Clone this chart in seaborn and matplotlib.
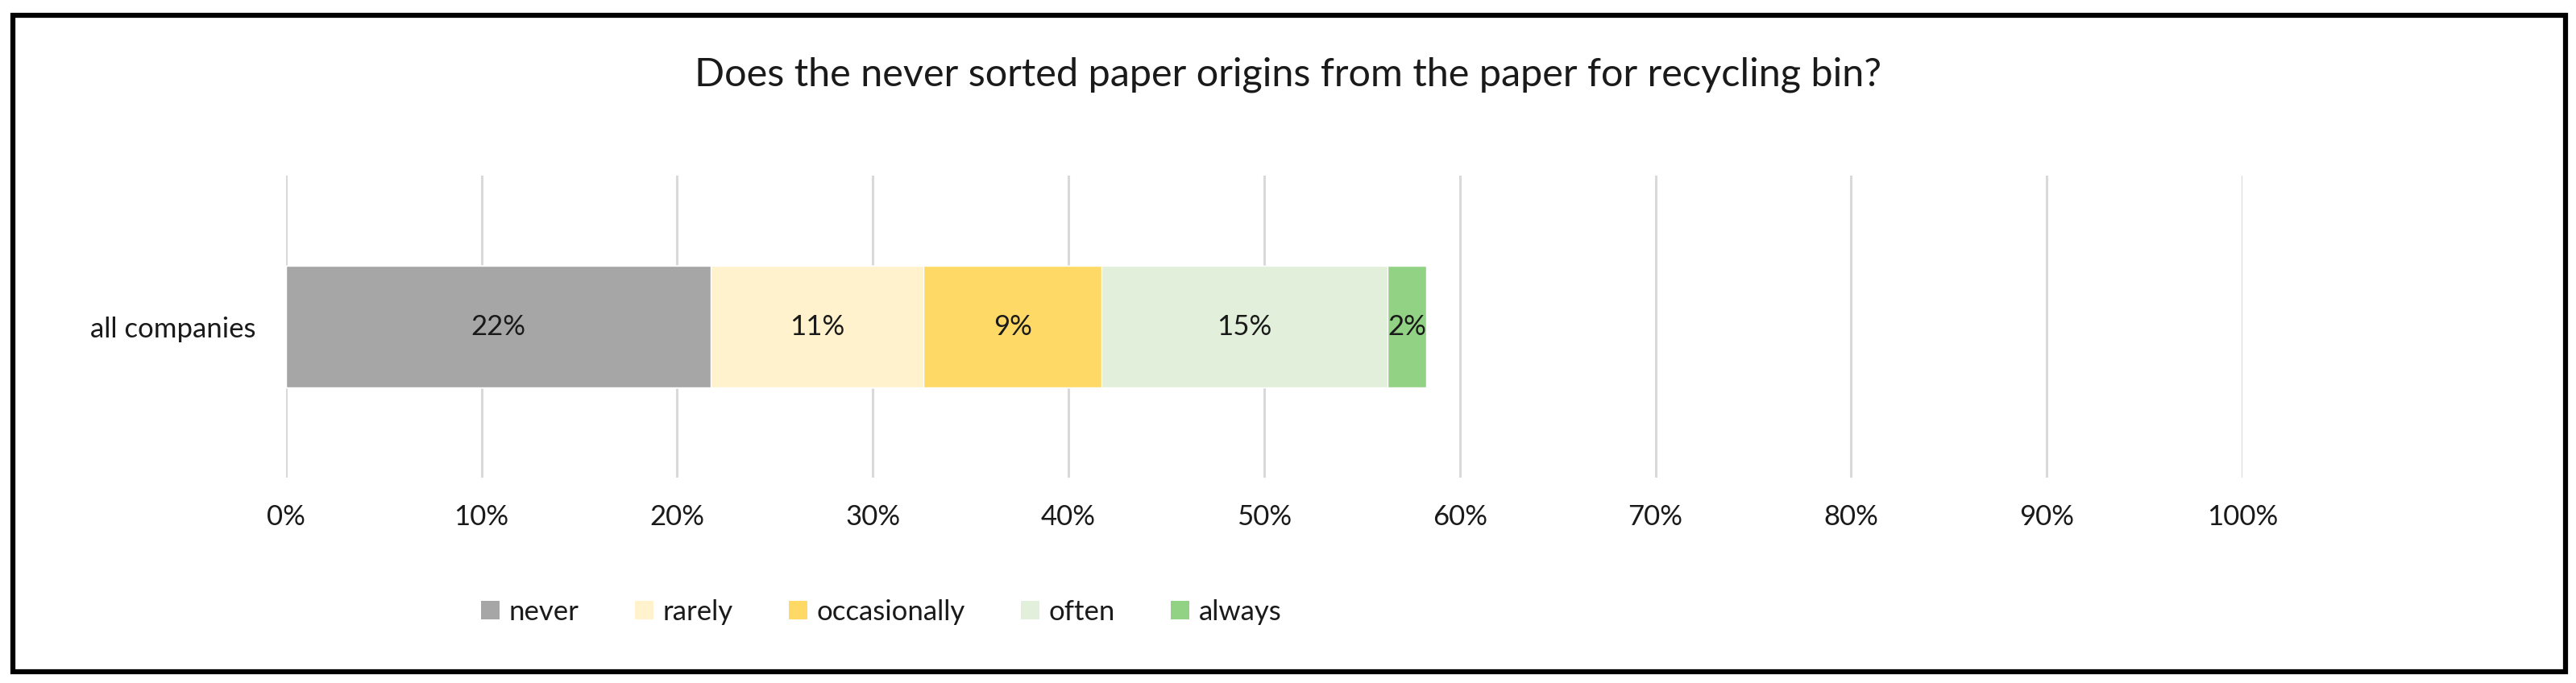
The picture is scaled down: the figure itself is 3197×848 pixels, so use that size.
import numpy as np
import pandas as pd
import seaborn as sns
import matplotlib.pyplot as plt
from matplotlib.patches import Patch, Rectangle

TITLE = "Does the never sorted paper origins from the paper for recycling bin?"
CATEGORIES = ["all companies"]
RESPONSES = ["never", "rarely", "occasionally", "often", "always"]
SHARES = [0.217, 0.109, 0.091, 0.146, 0.020]
COLORS = ["#a6a6a6", "#fff2cc", "#ffd966", "#e2efda", "#92d285"]
TICKS = np.arange(0, 1.01, 0.1)
TICK_LABELS = [f"{int(round(t * 100))}%" for t in TICKS]

TEXT = "#1a1a1a"
FS = 25


def main():
    sns.set_theme(style="white")
    plt.rcParams["font.family"] = ["Lato", "DejaVu Sans"]

    df = pd.DataFrame({
        "category": CATEGORIES * len(RESPONSES),
        "response": RESPONSES,
        "share": SHARES,
    })
    df["cum"] = df["share"].cumsum()

    fig = plt.figure(figsize=(31.97, 8.48), dpi=100)
    ax = fig.add_axes([0.1110, 0.3007, 0.7595, 0.4422])

    # stacked bars: draw cumulative totals from the longest down
    for i in reversed(range(len(RESPONSES))):
        row = df.iloc[[i]]
        sns.barplot(data=row, x="cum", y="category", color=COLORS[i],
                    width=0.405, saturation=1, orient="h", ax=ax, zorder=2)

    for _, r in df.iterrows():
        ax.text(r["cum"] - r["share"] / 2, 0, f"{r['share']:.0%}",
                ha="center", va="center", fontsize=FS, color=TEXT, zorder=3)

    ax.set_xlim(0, 1)
    ax.set_ylim(0.5, -0.5)
    ax.set_xticks(TICKS)
    ax.set_xticklabels(TICK_LABELS, fontsize=FS, color=TEXT)
    ax.tick_params(axis="x", length=0, pad=24)
    ax.tick_params(axis="y", length=0, pad=27, labelsize=FS, labelcolor=TEXT)
    ax.set_xlabel("")
    ax.set_ylabel("")
    ax.grid(axis="x", color="#d9d9d9", linewidth=2.2, zorder=0)
    ax.set_axisbelow(True)
    for s in ax.spines.values():
        s.set_visible(False)

    fig.text(0.5, 0.891, TITLE, ha="center", va="center", fontsize=35, color=TEXT)

    handles = [Patch(facecolor=c, edgecolor="none", label=l) for c, l in zip(COLORS, RESPONSES)]
    fig.legend(handles=handles, loc="center left", bbox_to_anchor=(0.177, 0.104),
               ncol=5, frameon=False, fontsize=FS, handlelength=0.66, handleheight=0.66,
               handletextpad=0.33, columnspacing=2.0, labelcolor=TEXT)

    fig.patches.append(Rectangle((15.5 / 3197, 1 - 834 / 848), (3184 - 15.5) / 3197,
                                 (834 - 18.5) / 848, transform=fig.transFigure,
                                 fill=False, edgecolor="black", linewidth=4.5))

    fig.savefig("out.png", dpi=100, facecolor="white")


if __name__ == "__main__":
    main()
